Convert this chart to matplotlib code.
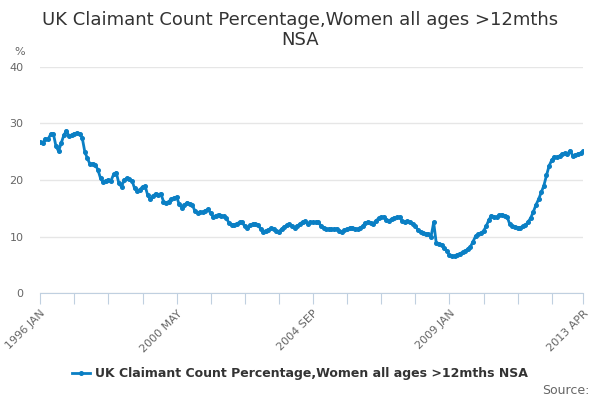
import numpy as np
import pandas as pd
import matplotlib.pyplot as plt

# monthly values, 1996 JAN .. 2013 APR
values = [
    26.7, 26.6, 27.3, 27.2, 28.1, 28.2, 26.0, 25.1, 26.5, 27.9, 28.7, 27.7,   # 1996
    27.9, 28.2, 28.3, 28.2, 27.5, 25.0, 23.8, 22.8, 22.9, 22.7, 21.8, 20.3,   # 1997
    19.6, 19.9, 20.0, 19.9, 21.0, 21.3, 19.4, 18.8, 20.0, 20.3, 20.1, 19.9,   # 1998
    18.5, 18.1, 18.3, 18.8, 18.9, 17.3, 16.6, 17.1, 17.6, 17.4, 17.6, 16.2,   # 1999
    15.9, 16.2, 16.6, 16.8, 17.0, 15.7, 15.1, 15.6, 16.0, 15.8, 15.6, 14.5,   # 2000
    14.2, 14.3, 14.3, 14.6, 14.8, 14.1, 13.5, 13.7, 13.9, 13.7, 13.6, 13.2,   # 2001
    12.4, 12.1, 12.1, 12.3, 12.5, 12.5, 11.8, 11.6, 12.0, 12.2, 12.2, 12.1,   # 2002
    11.4, 10.9, 11.0, 11.2, 11.5, 11.3, 11.0, 10.9, 11.3, 11.7, 12.0, 12.2,   # 2003
    11.8, 11.6, 11.9, 12.2, 12.6, 12.7, 12.2, 12.5, 12.5, 12.5, 12.6, 11.9,   # 2004
    11.6, 11.3, 11.3, 11.3, 11.3, 11.4, 11.0, 10.8, 11.1, 11.3, 11.5, 11.6,   # 2005
    11.4, 11.3, 11.5, 11.9, 12.4, 12.6, 12.4, 12.3, 12.8, 13.2, 13.4, 13.5,   # 2006
    13.0, 12.8, 13.1, 13.3, 13.4, 13.5, 12.7, 12.5, 12.7, 12.5, 12.3, 11.8,   # 2007
    11.2, 10.8, 10.7, 10.5, 10.4, 10.0, 12.5, 8.8, 8.7, 8.6, 8.0, 7.5,        # 2008
    6.7, 6.5, 6.6, 6.8, 7.0, 7.2, 7.4, 7.8, 8.2, 9.1, 10.1, 10.4,             # 2009
    10.6, 11.0, 11.8, 12.9, 13.7, 13.5, 13.4, 13.8, 13.9, 13.7, 13.5, 12.2,   # 2010
    11.8, 11.7, 11.6, 11.6, 11.8, 12.0, 12.6, 13.3, 14.4, 15.6, 16.6, 17.8,   # 2011
    19.0, 20.8, 22.5, 23.5, 24.1, 24.0, 24.2, 24.6, 24.7, 24.6, 25.2, 24.3,   # 2012
    24.4, 24.6, 24.7, 25.1,                                                   # 2013
]
months = pd.period_range("1996-01", "2013-04", freq="M")
month_labels = [f"{p.year} {p.strftime('%b').upper()}" for p in months]
shown_labels = ["1996 JAN", "2000 MAY", "2004 SEP", "2009 JAN", "2013 APR"]
y_ticks = [0, 10, 20, 30, 40]

title = "UK Claimant Count Percentage,Women all ages >12mths NSA"
line_color = "#0a7fc4"

fig = plt.figure(figsize=(6, 4), dpi=100)
ax = fig.add_axes([0.067, 0.267, 0.905, 0.566])

x = np.arange(len(values))
ax.plot(x, values, color=line_color, lw=2, marker="o", ms=2.6,
        mec=line_color, label=title)

# ticks every 13 months plus the last month, labels every 4th tick
tick_pos = list(range(0, len(values) - 1, 13)) + [len(values) - 1]
ax.set_xticks(tick_pos)
ax.set_xticklabels([month_labels[i] if month_labels[i] in shown_labels else ""
                    for i in tick_pos],
                   rotation=45, ha="right", rotation_mode="anchor",
                   fontsize=8, color="#666666")
ax.set_xlim(0, len(values) - 1)

ax.set_ylim(0, 40)
ax.set_yticks(y_ticks)
ax.set_yticklabels([str(v) for v in y_ticks], fontsize=8, color="#666666")
ax.grid(axis="y", color="#e6e6e6", lw=1)
ax.set_axisbelow(True)

for side in ["top", "right", "left"]:
    ax.spines[side].set_visible(False)
ax.spines["bottom"].set_color("#c0d0e0")
ax.tick_params(axis="x", length=8, color="#c0d0e0", pad=3)
ax.tick_params(axis="y", length=0, pad=12)

fig.text(0.5, 0.925, "UK Claimant Count Percentage,Women all ages >12mths\nNSA",
         ha="center", va="center", fontsize=13, color="#333333",
         linespacing=1.15)
fig.text(14 / 600, 1 - 52 / 400, "%", fontsize=8, color="#666666",
         ha="left", va="center")

leg = fig.legend(loc="center", bbox_to_anchor=(0.5, 0.065), frameon=False,
                 handlelength=1.5, handletextpad=0.4,
                 prop={"weight": "bold", "size": 9})
for t in leg.get_texts():
    t.set_color("#333333")

fig.text(0.982, 0.025, "Source:", ha="right", va="center", fontsize=9,
         color="#666666")

fig.savefig("out.png", dpi=100)
